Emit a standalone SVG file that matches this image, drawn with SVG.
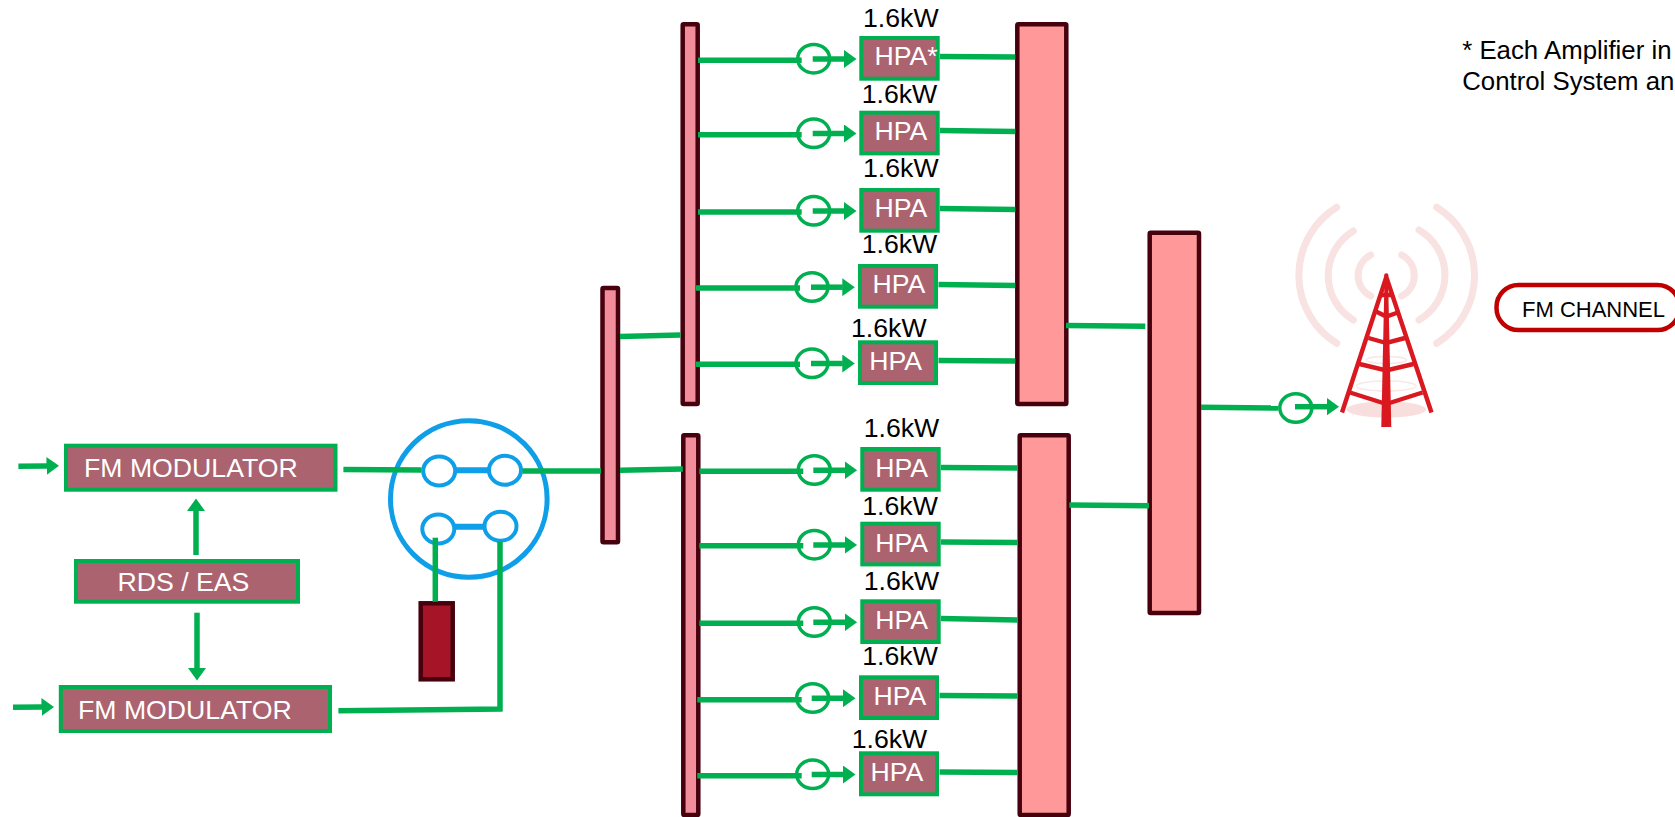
<svg xmlns="http://www.w3.org/2000/svg" width="1675" height="817" viewBox="0 0 1675 817">
<defs>
<style>
text{font-family:"Liberation Sans",Arial,sans-serif;font-size:26.67px}
.box{fill:#AB6370;stroke:#00B050;stroke-width:4}
.wt{fill:#fff}
.bk{fill:#000}
.bar{fill:#F28D9B;stroke:#47000D;stroke-width:4.5}
.comb{fill:#FF9999;stroke:#47000D;stroke-width:4.5}
.load{fill:#A61527;stroke:#47000D;stroke-width:4.5}
.cpl{fill:none;stroke:#00B050;stroke-width:3.5}
.sw{fill:none;stroke:#0F9FE8;stroke-width:4}
.l{fill:none;stroke:#00B050;stroke-width:5.5}
.a{fill:none;stroke:#00B050;stroke-width:5.5;marker-end:url(#ah)}
.wave{fill:none;stroke:#F8E2E2;stroke-width:7;stroke-linecap:round}
.tw{fill:none;stroke:#D9181F;stroke-width:4.4}
</style>
<marker id="ah" markerUnits="userSpaceOnUse" markerWidth="13" markerHeight="18" refX="0.5" refY="9" orient="auto"><path d="M0,0 L12.5,9 L0,18 Z" fill="#00B050"/></marker>
</defs>

<g id="tower">
<path class="wave" d="M1336.7 207.3A80 80 0 0 0 1336.7 343.3"/>
<path class="wave" d="M1353.3 231A52 52 0 0 0 1353.3 320"/>
<path class="wave" d="M1370.7 255A23 23 0 0 0 1370.7 296"/>
<path class="wave" d="M1436.7 207.3A80 80 0 0 1 1436.7 343.3"/>
<path class="wave" d="M1419 230A52 52 0 0 1 1419 320"/>
<path class="wave" d="M1401.7 255A23 23 0 0 1 1401.7 296"/>
<ellipse cx="1386.3" cy="409.5" rx="40" ry="8" fill="#F9DEDE"/>
<ellipse cx="1386.3" cy="360" rx="20" ry="3.5" fill="none" stroke="#F9E8E8" stroke-width="1.5"/>
<ellipse cx="1386.3" cy="386" rx="30" ry="5" fill="none" stroke="#F9E8E8" stroke-width="1.5"/>
<path class="tw" d="M1386.3 277L1342 412.5M1386.3 277L1431.5 412.5"/>
<path class="tw" d="M1376 311.5L1386.3 316.5L1396.5 313M1368.5 338L1386.3 343L1405 338M1359.5 364L1386.3 370.5L1413.5 364M1350 392.5L1386.3 404L1422.5 392.5M1379 295L1393.5 295"/>
<path d="M1384.6 276L1388 276L1391.3 427L1381.3 427Z" fill="#D9181F"/>
<circle cx="1386.3" cy="275.5" r="2.2" fill="#D9181F"/>
</g>

<g id="fm-modulator-1"><rect class="box" x="66" y="445.7" width="269.5" height="44"/><text class="wt" x="84" y="477">FM MODULATOR</text></g>
<g id="fm-modulator-2"><rect class="box" x="60.8" y="687" width="269.2" height="44"/><text class="wt" x="78" y="719">FM MODULATOR</text></g>
<g id="rds-eas"><rect class="box" x="76" y="561" width="222" height="40.7"/><text class="wt" x="117.5" y="590.7">RDS / EAS</text></g>

<g id="switch">
<circle class="sw" cx="468.8" cy="499" r="78.3" style="stroke-width:5"/>
<ellipse class="sw" cx="439.2" cy="471" rx="16" ry="14.5"/>
<ellipse class="sw" cx="505" cy="470.3" rx="16" ry="14.5"/>
<ellipse class="sw" cx="438.3" cy="529" rx="16" ry="14.5"/>
<ellipse class="sw" cx="500.5" cy="526.3" rx="16" ry="14.5"/>
<path d="M456 470.3H488M454.5 526.7H483" fill="none" stroke="#0F9FE8" stroke-width="6"/>
</g>
<g id="load"><rect class="load" x="420.7" y="603.3" width="32" height="76"/></g>

<g id="splitter-main"><rect class="bar" x="602.5" y="288" width="15.5" height="254.3" rx="1"/></g>
<g id="splitter-top"><rect class="bar" x="682.7" y="24.3" width="15" height="379.7" rx="1"/></g>
<g id="splitter-bottom"><rect class="bar" x="683.3" y="435.3" width="15" height="379.7" rx="1"/></g>
<g id="combiner-top"><rect class="comb" x="1017.3" y="24.3" width="49" height="379.7" rx="1"/></g>
<g id="combiner-bottom"><rect class="comb" x="1019.7" y="435.3" width="49" height="379.7" rx="1"/></g>
<g id="combiner-main"><rect class="comb" x="1149.7" y="232.7" width="49.3" height="380.3" rx="1"/></g>

<g id="hpa-1"><rect class="box" x="861.3" y="38" width="76.4" height="40.7"/><text class="wt" x="874.5" y="64.7">HPA*</text><text class="bk" x="863" y="27.3">1.6kW</text></g>
<g id="hpa-2"><rect class="box" x="861.3" y="112.7" width="76.4" height="40.7"/><text class="wt" x="874.5" y="139.5">HPA</text><text class="bk" x="861.7" y="103.3">1.6kW</text></g>
<g id="hpa-3"><rect class="box" x="861.3" y="190" width="76.4" height="40.7"/><text class="wt" x="874.5" y="216.8">HPA</text><text class="bk" x="863" y="177.3">1.6kW</text></g>
<g id="hpa-4"><rect class="box" x="860" y="266" width="76" height="40.7"/><text class="wt" x="872.5" y="293">HPA</text><text class="bk" x="861.7" y="253.3">1.6kW</text></g>
<g id="hpa-5"><rect class="box" x="860" y="342.3" width="76" height="40.7"/><text class="wt" x="869.2" y="370">HPA</text><text class="bk" x="851" y="336.7">1.6kW</text></g>
<g id="hpa-6"><rect class="box" x="862.3" y="449" width="76.4" height="40.7"/><text class="wt" x="875.2" y="476.7">HPA</text><text class="bk" x="863.7" y="436.7">1.6kW</text></g>
<g id="hpa-7"><rect class="box" x="862.3" y="523.7" width="76.4" height="40.7"/><text class="wt" x="875.2" y="551.5">HPA</text><text class="bk" x="862.3" y="514.7">1.6kW</text></g>
<g id="hpa-8"><rect class="box" x="862.3" y="601.3" width="76.4" height="40.7"/><text class="wt" x="875.2" y="628.7">HPA</text><text class="bk" x="863.7" y="589.7">1.6kW</text></g>
<g id="hpa-9"><rect class="box" x="861" y="677.3" width="76" height="40.7"/><text class="wt" x="873.5" y="704.7">HPA</text><text class="bk" x="862.3" y="665">1.6kW</text></g>
<g id="hpa-10"><rect class="box" x="861" y="753.3" width="76" height="41"/><text class="wt" x="870.5" y="781">HPA</text><text class="bk" x="851.7" y="747.7">1.6kW</text></g>

<g id="couplers">
<ellipse class="cpl" cx="813.7" cy="58.7" rx="16" ry="14.3"/>
<ellipse class="cpl" cx="813.7" cy="133.3" rx="16" ry="14.3"/>
<ellipse class="cpl" cx="813.7" cy="210.8" rx="16" ry="14.3"/>
<ellipse class="cpl" cx="812" cy="287" rx="16" ry="14.3"/>
<ellipse class="cpl" cx="812" cy="363.3" rx="16" ry="14.3"/>
<ellipse class="cpl" cx="814.3" cy="470" rx="16" ry="14.3"/>
<ellipse class="cpl" cx="814.3" cy="544.7" rx="16" ry="14.3"/>
<ellipse class="cpl" cx="814.3" cy="622" rx="16" ry="14.3"/>
<ellipse class="cpl" cx="812.7" cy="698" rx="16" ry="14.3"/>
<ellipse class="cpl" cx="812.7" cy="774.3" rx="16" ry="14.3"/>
<ellipse class="cpl" cx="1295.8" cy="408" rx="16" ry="14.3"/>
</g>

<g id="fm-channel"><rect x="1496.5" y="285" width="183" height="45" rx="22" fill="#fff" stroke="#C00000" stroke-width="4.5"/><text class="bk" x="1522" y="316.7" style="font-size:22px">FM CHANNEL</text></g>
<g id="note"><text class="bk" x="1462.2" y="59.3" style="font-size:25.8px">* Each Amplifier in</text><text class="bk" x="1462.2" y="90" style="font-size:25.8px">Control System an</text></g>

<g id="connectors">
<path class="a" d="M18.4 466.3L47 466"/>
<path class="a" d="M13 707.3L42 707"/>
<path class="a" d="M196 555V510.5"/>
<path class="a" d="M197 612.7V668.5"/>
<path class="l" d="M343.4 469.5L421.5 470"/>
<path class="l" d="M522.5 471L601 471M620 470.3L682.8 469"/>
<path class="l" d="M435.3 537.7V601.7"/>
<path class="l" d="M338.4 710.7L502.5 709M500 541.7V711"/>
<path class="l" d="M620 336.5L680.5 335"/>
<path class="l" d="M698 60.3H801.7M698 134.7H801.7M698 212H801.7M696 288H800M696 364.3H800"/>
<path class="l" d="M699.3 471.3H803.3M699.3 545.7H803.3M699.3 623.3H803.3M697.3 699.7H801.7M697.3 775.7H801.7"/>
<path class="a" d="M812.7 58.9H844.5"/>
<path class="a" d="M812.7 133.5H844.5"/>
<path class="a" d="M812.7 211H844.5"/>
<path class="a" d="M811 287.2H842.8"/>
<path class="a" d="M811 363.5H842.8"/>
<path class="a" d="M813.3 470.2H845.1"/>
<path class="a" d="M813.3 544.9H845.1"/>
<path class="a" d="M813.3 622.2H845.1"/>
<path class="a" d="M811.7 698.2H843.5"/>
<path class="a" d="M811.7 774.5H843.5"/>
<path class="l" d="M940 56.5L1015.3 57M940 130.5L1015.3 131.5M940 208.5L1015.3 209.5M938.5 284.5L1015.3 285.5M938.5 360.5L1015.3 361"/>
<path class="l" d="M941 467.5L1017.7 468M941 542L1017.7 542.5M941 618.5L1017.7 620M939.5 695.5L1017.7 696M939.5 772L1017.7 772.5"/>
<path class="l" d="M1066 325.5L1145.3 326.3M1069.3 505L1149 505.7"/>
<path class="l" d="M1201 407.2L1278 408"/>
<path class="a" d="M1295 406.7H1327"/>
</g>
</svg>
